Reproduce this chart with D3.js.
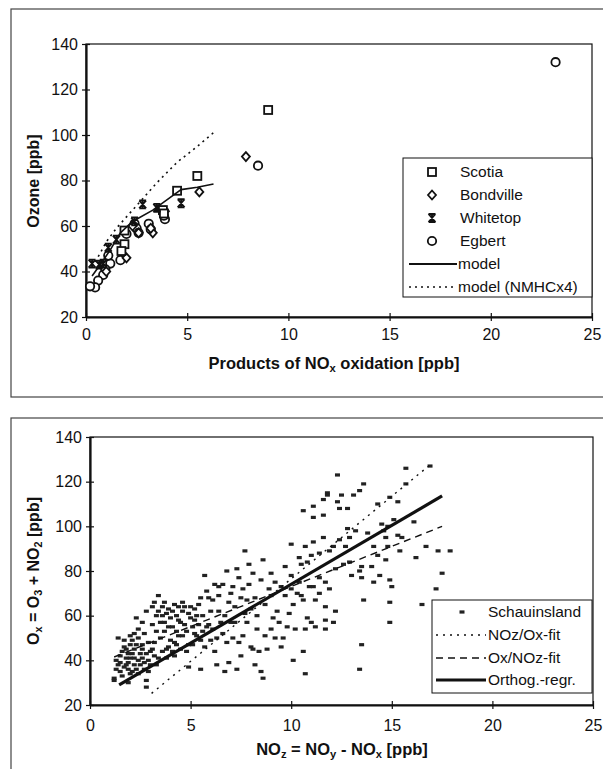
<!DOCTYPE html>
<html lang="en">
<head>
<meta charset="UTF-8">
<title>Ozone vs NOx oxidation products</title>
<script src="https://d3js.org/d3.v7.min.js"></script>
<style>
  body { margin: 0; background: #fff; }
  svg { display: block; font-family: "Liberation Sans", Arial, sans-serif; }
</style>
</head>
<body>
<div id="chart"></div>
<script>
// ---- top panel data: [NOz, O3]
const scotia = [[9.0,111],[5.5,82],[4.5,75.5],[3.8,67],[3.85,65.5],[1.9,58],[1.9,52],[1.75,49]];
const bondville = [[7.9,90.5],[5.6,75],[3.9,66.5],[3.3,57],[3.2,59],[2.0,46],[2.3,60],[2.6,57],[1.0,40]];
const whitetop = [[4.7,70],[2.8,69.5],[3.5,68],[2.4,62],[1.5,54],[1.1,50.5],[0.3,43.5],[0.65,43],[0.85,43.5]];
const egbert = [[23.2,132],[8.5,86.5],[3.9,63],[3.85,64.5],[3.1,61],[3.2,58.5],[2.4,61],[2.5,59],[2.6,57],
  [2.0,56.5],[1.7,45],[1.2,43.5],[1.1,47],[0.95,41],[0.85,38.5],[0.6,36],[0.45,33],[0.2,33.5]];
const modelLine = [[0.3,38],[0.7,43],[1.2,49.5],[1.7,57],[2.3,62],[3.3,67],[4.3,73.5],[4.7,76],[5.5,77],[6.3,78.5]];
const modelNmhc = [[0.3,42],[0.7,48],[1.0,53],[1.5,59],[2.0,64],[2.7,71],[3.5,79],[4.5,88],[5.5,95],[6.3,101]];

// ---- bottom panel data: [NOz, Ox]
const schauinsland = [
  [1.2,32],[1.2,31],[1.3,36],[1.4,38],[1.3,40],[1.5,42],[1.5,35],[1.4,50],[1.6,44],[1.5,39],[1.7,37],[1.6,33],
  [1.7,49],[1.8,41],[1.8,45],[1.9,39],[1.9,43],[1.9,36],[2.0,47],[2.0,34],[1.8,38],[2.0,41],[1.7,46],[2.0,51],[1.9,30],
  [2.1,43],[2.1,49],[2.2,38],[2.2,45],[2.2,41],[2.3,36],[2.3,47],[2.4,50],[2.4,40],[2.4,34],[2.3,59],[2.5,43],[2.5,38],[2.1,35],[2.4,54],[2.2,52],
  [2.6,41],[2.6,45],[2.6,47],[2.7,36],[2.7,39],[2.8,31],[2.8,28],[2.8,43],[2.9,35],[2.9,40],[2.6,57],[2.7,52],[2.9,48],[2.8,62],[3.0,44],[3.0,38],
  [3.1,64],[3.1,56],[3.1,45],[3.2,48],[3.2,42],[3.3,60],[3.3,53],[3.4,69],[3.4,41],[3.4,62],[3.5,50],[3.5,57],[3.3,38],[3.2,66],
  [3.6,60],[3.6,64],[3.7,57],[3.7,53],[3.8,61],[3.8,45],[3.9,46],[3.9,55],[3.9,63],[4.0,59],[3.7,66],[3.6,44],[4.0,49],[3.8,41],
  [4.1,62],[4.1,55],[4.2,42],[4.2,65],[4.2,48],[4.3,60],[4.3,53],[4.4,58],[4.4,51],[4.4,64],[4.5,45],[4.5,57],[4.1,44],[4.3,47],
  [4.6,66],[4.6,62],[4.7,64],[4.7,56],[4.8,44],[4.8,53],[4.9,61],[4.9,37],[5.0,59],[4.9,47],[4.6,51],[5.0,64],
  [5.1,47],[5.1,55],[5.2,63],[5.2,52],[5.3,51],[5.3,60],[5.4,65],[5.4,56],[5.5,36],[5.5,68],[5.5,49],[5.2,58],
  [5.6,60],[5.6,53],[5.7,78],[5.8,55],[5.9,68],[5.9,56],[6.0,49],[6.0,62],[5.7,46],[5.8,71],
  [6.1,67],[6.1,54],[6.2,74],[6.3,50],[6.3,38],[6.4,73],[6.4,62],[6.5,57],[6.2,44],[6.4,69],
  [6.6,74],[6.7,60],[6.7,35],[6.8,48],[6.8,80],[6.9,39],[6.9,66],[7.0,70],[6.6,52],[7.0,57],
  [7.1,73],[7.2,57],[7.3,36],[7.3,81],[7.4,48],[7.5,42],[7.5,68],[7.2,64],[7.4,77],[7.1,50],
  [7.6,51],[7.7,61],[7.7,89],[7.8,57],[7.9,83],[7.9,74],[8.0,63],[7.6,72],[8.0,46],[7.8,67],
  [8.1,45],[8.2,68],[8.2,38],[8.3,60],[8.4,44],[8.5,35],[8.5,76],[8.3,54],[8.1,79],
  [8.6,85],[8.6,32],[8.7,51],[8.8,45],[8.9,72],[9.0,54],[9.0,79],[9.0,69],[8.7,65],
  [9.1,59],[9.2,75],[9.3,62],[9.4,57],[9.5,46],[9.5,73],[9.2,50],
  [9.6,50],[9.7,82],[9.7,69],[9.8,55],[9.9,61],[10.0,92],[10.0,78],[10.0,72],
  [10.1,40],[10.2,54],[10.1,65],[10.3,70],[10.4,86],[10.5,83],[10.5,69],[10.4,75],
  [10.6,107],[10.6,44],[10.7,34],[10.7,54],[10.7,91],[10.8,59],[10.8,84],[10.6,67],[10.9,73],
  [11.1,109],[11.1,104],[11.1,93],[11.0,87],[11.0,57],[11.2,55],[11.1,73],[11.2,67],[11.4,88],[11.4,70],[11.4,77],
  [11.6,112],[11.6,95],[11.6,105],[11.7,54],[11.7,64],[11.7,75],[11.8,115],[11.8,114],[11.9,89],[11.9,72],[11.7,58],
  [12.1,57],[12.1,91],[12.2,62],[12.3,123],[12.3,111],[12.4,108],[12.4,94],[12.2,81],[12.5,114],
  [12.6,83],[12.7,91],[12.8,108],[12.8,99],[12.9,95],[12.9,84],[13.0,78],
  [13.1,114],[13.2,98],[13.4,116],[13.4,80],[13.5,77],[13.5,82],[13.4,36],[13.5,47],
  [13.6,119],[13.6,67],[13.8,97],[14.0,82],
  [14.1,75],[14.1,91],[14.3,110],[14.3,87],[14.4,78],
  [14.5,101],[14.6,98],[14.7,95],[14.7,85],[14.8,91],[14.8,100],[14.9,113],[14.9,76],[14.9,66],[14.9,57],
  [15.0,73],[15.1,103],[15.3,111],[15.3,96],[15.4,89],[15.5,95],[15.7,126],[15.7,119],[16.1,102],[16.2,86],
  [16.5,65],[16.7,91],[16.9,127],[17.2,72],[17.3,89],[17.5,79],[17.9,89]
];
const fitNozOx = [[3.06,25.2],[16.9,127.5]];
const fitOxNoz = [[1.2,41.5],[17.5,100]];
const orthogRegr = [[1.45,29],[17.5,113.6]];

const xTicks = [0, 5, 10, 15, 20, 25];
const yTicks = [20, 40, 60, 80, 100, 120, 140];

const W = 603, H = 769;
const ink = "#111";

const svg = d3.select("#chart").append("svg")
  .attr("width", W).attr("height", H);

// outer frames
svg.append("rect").attr("x", 11).attr("y", 9).attr("width", 700).attr("height", 388)
  .attr("fill", "none").attr("stroke", "#444").attr("stroke-width", 1.2);
svg.append("rect").attr("x", 11).attr("y", 418).attr("width", 700).attr("height", 400)
  .attr("fill", "none").attr("stroke", "#444").attr("stroke-width", 1.2);

function drawAxes(x, y, xPad) {
  const [x0, x1] = x.range();
  const [y0, y1] = y.range();
  // plot box
  svg.append("rect").attr("x", x0).attr("y", y1).attr("width", x1 - x0).attr("height", y0 - y1)
    .attr("fill", "none").attr("stroke", ink).attr("stroke-width", 1.2);

  const gx = svg.append("g").attr("transform", `translate(0,${y0})`)
    .call(d3.axisBottom(x).tickValues(xTicks).tickSize(4).tickSizeOuter(0).tickPadding(xPad));
  gx.selectAll(".tick line").attr("y1", -4).attr("y2", 4);

  const gy = svg.append("g").attr("transform", `translate(${x0},0)`)
    .call(d3.axisLeft(y).tickValues(yTicks).tickSize(4).tickSizeOuter(0).tickPadding(4));
  gy.selectAll(".tick line").attr("x1", -4).attr("x2", 4);

  [gx, gy].forEach(g => {
    g.select(".domain").attr("stroke", ink).attr("stroke-width", 2.2);
    g.selectAll(".tick line").attr("stroke", ink).attr("stroke-width", 1.2);
    g.selectAll("text").attr("fill", ink).style("font-size", "16px")
      .style("font-family", "'Liberation Sans', Arial, sans-serif");
  });
}

// text with subscripts: parts = [[text, isSub], ...]
function richText(g, parts, size) {
  const t = g.append("text").attr("fill", ink).style("font-size", size + "px");
  parts.forEach(([s, sub], i) => {
    const ts = t.append("tspan").text(s);
    if (sub) ts.attr("dy", "0.28em").style("font-size", (size * 0.68) + "px");
    else if (i > 0) ts.attr("dy", "-0.19em");
  });
  return t;
}

// marker drawers
function square(g, cx, cy) {
  g.append("rect").attr("x", cx - 4).attr("y", cy - 4).attr("width", 8).attr("height", 8)
    .attr("fill", "#fff").attr("stroke", ink).attr("stroke-width", 1.8);
}
function diamond(g, cx, cy) {
  g.append("path").attr("d", `M${cx},${cy - 4.5}L${cx + 4},${cy}L${cx},${cy + 4.5}L${cx - 4},${cy}Z`)
    .attr("fill", "#fff").attr("stroke", ink).attr("stroke-width", 1.8);
}
function star(g, cx, cy) {
  g.append("path").attr("d",
    `M${cx - 3.5},${cy - 4}L${cx + 3.5},${cy + 4}M${cx + 3.5},${cy - 4}L${cx - 3.5},${cy + 4}` +
    `M${cx},${cy - 4.5}L${cx},${cy + 4.5}M${cx - 3.5},${cy - 4}L${cx + 3.5},${cy - 4}M${cx - 3.5},${cy + 4}L${cx + 3.5},${cy + 4}`)
    .attr("fill", "none").attr("stroke", ink).attr("stroke-width", 1.8);
}
function circle(g, cx, cy) {
  g.append("circle").attr("cx", cx).attr("cy", cy).attr("r", 4.2)
    .attr("fill", "#fff").attr("stroke", ink).attr("stroke-width", 1.8);
}
function dash(g, cx, cy) {
  g.append("rect").attr("x", cx - 2.5).attr("y", cy - 1.6).attr("width", 5).attr("height", 3.2)
    .attr("fill", "#222");
}

// ================= top panel =================
const xT = d3.scaleLinear().domain([0, 25]).range([86, 592]);
const yT = d3.scaleLinear().domain([20, 140]).range([317, 44]);
drawAxes(xT, yT, 8);

const lineT = d3.line().x(d => xT(d[0])).y(d => yT(d[1]));
svg.append("path").attr("d", lineT(modelNmhc)).attr("fill", "none")
  .attr("stroke", ink).attr("stroke-width", 1.6).attr("stroke-dasharray", "2,4");

const gT = svg.append("g");
egbert.forEach(d => circle(gT, xT(d[0]), yT(d[1])));
bondville.forEach(d => diamond(gT, xT(d[0]), yT(d[1])));
scotia.forEach(d => square(gT, xT(d[0]), yT(d[1])));
whitetop.forEach(d => star(gT, xT(d[0]), yT(d[1])));

svg.append("path").attr("d", lineT(modelLine)).attr("fill", "none")
  .attr("stroke", ink).attr("stroke-width", 1.6);

// axis titles
richText(svg.append("g"), [["Products of NO", false], ["x", true], [" oxidation [ppb]", false]], 16.5)
  .attr("x", 334).attr("y", 369).attr("text-anchor", "middle").style("font-weight", "bold");
svg.append("text").attr("transform", "translate(39,181) rotate(-90)")
  .attr("text-anchor", "middle").attr("fill", ink)
  .style("font-size", "16px").style("font-weight", "bold").text("Ozone [ppb]");

// legend
const legT = svg.append("g");
legT.append("rect").attr("x", 403).attr("y", 158).attr("width", 189).attr("height", 139)
  .attr("fill", "#fff").attr("stroke", ink).attr("stroke-width", 1);
const topNames = ["Scotia", "Bondville", "Whitetop", "Egbert", "model", "model (NMHCx4)"];
const topRows = [172, 195, 218, 241, 264, 287];
square(legT, 432, topRows[0]);
diamond(legT, 432, topRows[1]);
star(legT, 432, topRows[2]);
circle(legT, 432, topRows[3]);
legT.append("line").attr("x1", 409).attr("x2", 457).attr("y1", topRows[4]).attr("y2", topRows[4])
  .attr("stroke", ink).attr("stroke-width", 1.8);
legT.append("line").attr("x1", 409).attr("x2", 457).attr("y1", topRows[5]).attr("y2", topRows[5])
  .attr("stroke", ink).attr("stroke-width", 1.5).attr("stroke-dasharray", "2,4");
topNames.forEach((n, i) => {
  legT.append("text").attr("x", i < 4 ? 460 : 458).attr("y", topRows[i]).attr("dy", "0.35em")
    .attr("fill", ink).style("font-size", "15.5px").text(n);
});

// ================= bottom panel =================
const xB = d3.scaleLinear().domain([0, 25]).range([90, 593]);
const yB = d3.scaleLinear().domain([20, 140]).range([705, 437]);
drawAxes(xB, yB, 11);

const gB = svg.append("g");
schauinsland.forEach(d => dash(gB, xB(d[0]), yB(d[1])));

const lineB = d3.line().x(d => xB(d[0])).y(d => yB(d[1]));
svg.append("path").attr("d", lineB(fitNozOx)).attr("fill", "none")
  .attr("stroke", ink).attr("stroke-width", 1.4).attr("stroke-dasharray", "2,5");
svg.append("path").attr("d", lineB(fitOxNoz)).attr("fill", "none")
  .attr("stroke", ink).attr("stroke-width", 1.4).attr("stroke-dasharray", "7,5");
svg.append("path").attr("d", lineB(orthogRegr)).attr("fill", "none")
  .attr("stroke", ink).attr("stroke-width", 3.2);

richText(svg.append("g"), [["NO", false], ["z", true], [" = NO", false], ["y", true], [" - NO", false], ["x", true], [" [ppb]", false]], 16.5)
  .attr("x", 342).attr("y", 755).attr("text-anchor", "middle").style("font-weight", "bold");
richText(svg.append("g"), [["O", false], ["x", true], [" = O", false], ["3", true], [" + NO", false], ["2", true], [" [ppb]", false]], 16)
  .attr("transform", "translate(39,571) rotate(-90)").attr("text-anchor", "middle").style("font-weight", "bold");

// legend
const legB = svg.append("g");
legB.append("rect").attr("x", 432).attr("y", 600).attr("width", 160).attr("height", 93)
  .attr("fill", "#fff").attr("stroke", ink).attr("stroke-width", 1);
const botNames = ["Schauinsland", "NOz/Ox-fit", "Ox/NOz-fit", "Orthog.-regr."];
const botRows = [612, 635, 658, 680];
dash(legB, 462, botRows[0]);
legB.append("line").attr("x1", 436).attr("x2", 486).attr("y1", botRows[1]).attr("y2", botRows[1])
  .attr("stroke", ink).attr("stroke-width", 1.4).attr("stroke-dasharray", "2,5");
legB.append("line").attr("x1", 436).attr("x2", 486).attr("y1", botRows[2]).attr("y2", botRows[2])
  .attr("stroke", ink).attr("stroke-width", 1.4).attr("stroke-dasharray", "7,5");
legB.append("line").attr("x1", 436).attr("x2", 486).attr("y1", botRows[3]).attr("y2", botRows[3])
  .attr("stroke", ink).attr("stroke-width", 3.2);
botNames.forEach((n, i) => {
  legB.append("text").attr("x", 488).attr("y", botRows[i]).attr("dy", "0.35em")
    .attr("fill", ink).style("font-size", "15.5px").text(n);
});
</script>
</body>
</html>
